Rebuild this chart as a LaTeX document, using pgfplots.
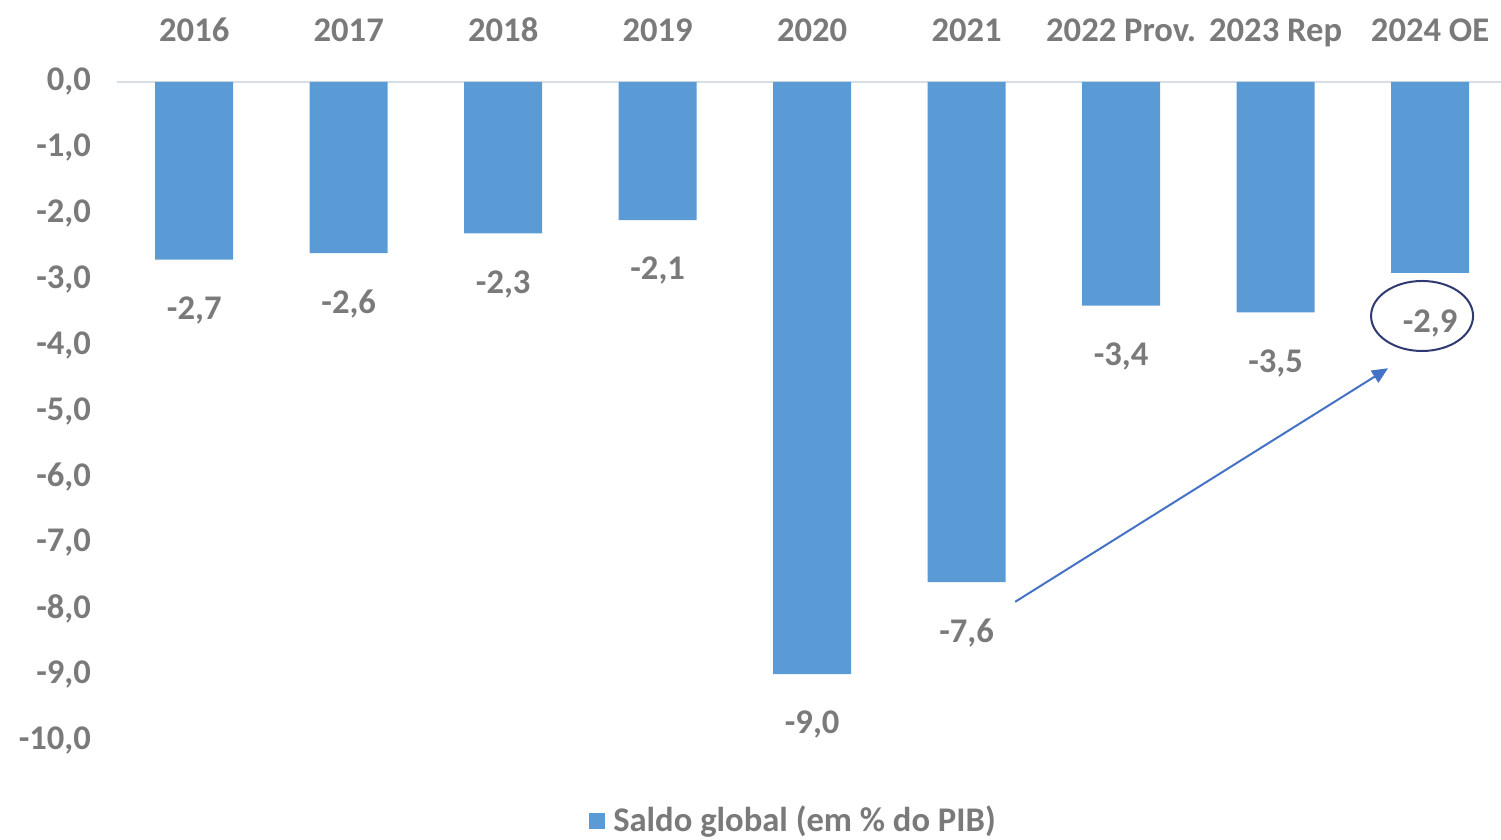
\documentclass[border=0pt]{standalone}
\usepackage{fontspec}
\setmainfont{Carlito}
\usepackage{pgfplots}
\pgfplotsset{compat=1.18}
\usetikzlibrary{arrows.meta}
\definecolor{barblue}{HTML}{5B9BD5}
\definecolor{txtgray}{HTML}{7A7A7A}
\definecolor{zeroline}{HTML}{D9DEE6}
\definecolor{arrowblue}{HTML}{4472C4}
\definecolor{navy}{HTML}{2F3B70}
\newcommand{\lblfont}{\fontsize{17.3}{21}\selectfont\bfseries}
\begin{document}
\begin{tikzpicture}
\begin{axis}[
  scale only axis, width=692pt, height=329pt,
  xmin=-0.5, xmax=8.459, ymin=-10, ymax=0,
  axis x line*=top, axis y line*=left,
  x axis line style={zeroline, line width=1.3pt, -},
  y axis line style={draw=none},
  major tick length=0pt, tick style={draw=none},
  xtick={0,...,8},
  xticklabels={2016,2017,2018,2019,2020,2021,2022 Prov.,2023 Rep,2024 OE},
  ytick={-10,-9,...,0},
  ticklabel style={font=\lblfont, text=txtgray},
  xticklabel style={anchor=base, yshift=20pt},
  yticklabel style={xshift=-9.5pt},
  /pgf/number format/fixed,
  /pgf/number format/fixed zerofill,
  /pgf/number format/precision=1,
  /pgf/number format/use comma,
  /pgf/number format/assume math mode=true,
  ybar, bar width=39pt,
  nodes near coords,
  nodes near coords style={anchor=north, yshift=-15pt, font=\lblfont, text=txtgray},
  legend style={at={(0.4895,-0.1216)}, anchor=center, draw=none, font=\lblfont, text=txtgray},
  legend image code/.code={\fill[barblue] (0pt,-4.5pt) rectangle (8pt,3.5pt);},
]
\addplot[fill=barblue, draw=none] coordinates {
(0,-2.7) (1,-2.6) (2,-2.3) (3,-2.1) (4,-9.0) (5,-7.6) (6,-3.4) (7,-3.5) (8,-2.9)};
\addlegendentry{\hspace{2pt}Saldo global (em \% do PIB)}
\draw[arrowblue, line width=1pt, -{Triangle[length=8pt,width=7pt]}] (axis cs:5.314,-7.90) -- (axis cs:7.728,-4.35);
\draw[navy, line width=1pt] (axis cs:7.948,-3.556) ellipse [x radius=25.5pt, y radius=17.5pt];
\end{axis}
\pgfresetboundingbox
\path ([shift={(-58.5pt,-49.5pt)}]current axis.south west) rectangle ([shift={(0pt,41pt)}]current axis.north east);
\end{tikzpicture}
\end{document}
